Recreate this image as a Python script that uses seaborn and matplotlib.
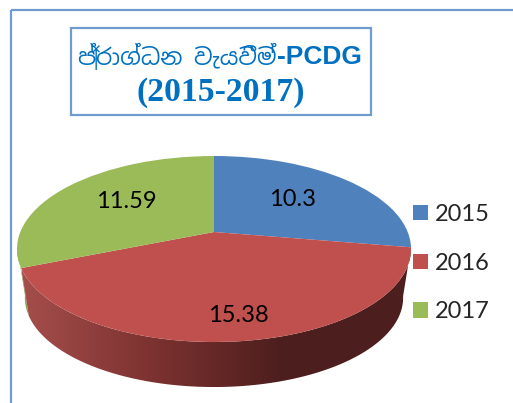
import numpy as np
import matplotlib
matplotlib.use('Agg')
import matplotlib.pyplot as plt
import seaborn as sns
from matplotlib.patches import Rectangle, PathPatch
from matplotlib.path import Path
from matplotlib.transforms import Transform

# Data
years = ['2015', '2016', '2017']
values = [10.3, 15.38, 11.59]
colors = ['#4f81bd', '#c0504d', '#9bbb59']
title_si = 'ප්\u200dරාග්ධන වැයවීම්'
title_en = '-PCDG'
title_range = '(2015-2017)'
label_pos = [(293, 199), (238, 315), (126, 202)]
wall_colors = ['#a54e4c', '#7c3230', '#4d1e1e', '#4d1e1e']

sns.set_theme(style='white')
plt.rcParams['font.family'] = ['Lato', 'DejaVu Sans']


def project(x, y, cx=214.0, cy=232.0, scale=1.0):
    # tilted disc: far edge is squeezed, near edge stretched
    w = 1 + 0.183 * y
    return cx + scale * 193.7 * x / w, cy - scale * 89.9 * y / w


class Tilt(Transform):
    input_dims = 2
    output_dims = 2

    def transform_non_affine(self, xy):
        xy = np.asarray(xy)
        return np.column_stack(project(xy[:, 0], xy[:, 1]))


def rim(a, b, **kw):
    t = np.radians(np.linspace(a, b, 80))
    return np.column_stack(project(np.cos(t), np.sin(t), **kw))


def wall(ax, a, b, c=None):
    top = rim(a, b)
    low = rim(b, a, cy=281.4, scale=0.96)
    verts = np.vstack([top, low, top[:1]])
    return PathPatch(Path(verts), facecolor=c or 'none', edgecolor='none',
                     transform=ax.transData, zorder=1)


fig = plt.figure(figsize=(5.13, 4.03), dpi=100)
ax = fig.add_axes([0, 0, 1, 1])

wedges, _ = ax.pie(values, colors=colors, startangle=90, counterclock=False)
ax.set_aspect('auto')
ax.set_xlim(0, 513)
ax.set_ylim(403, 0)
ax.axis('off')

tilt = Tilt() + ax.transData
for w in wedges:
    w.set_transform(tilt)
    w.set_zorder(3)
    w.set_linewidth(0)

# outer frame and title box
ax.add_patch(Rectangle((11, 10), 530, 430, fc='none', ec='#6f9bd1', lw=1.6, zorder=0))
ax.add_patch(Rectangle((71, 28), 300, 87, fc='white', ec='#6f9bd1', lw=1.6, zorder=4))

# pie side: green sliver then the shaded red wall
red, green = wedges[1], wedges[2]
ax.add_patch(wall(ax, green.theta2 - 13, green.theta2, '#8aa64f'))
side = wall(ax, red.theta1, red.theta2)
ax.add_patch(side)
cmap = sns.blend_palette(wall_colors, as_cmap=True)
img = ax.imshow(np.linspace(0, 1, 256)[None, :], extent=(22, 412, 400, 240),
                aspect='auto', cmap=cmap, zorder=1)
img.set_clip_path(side)
ax.set_xlim(0, 513)
ax.set_ylim(403, 0)

for v, (x, y) in zip(values, label_pos):
    ax.text(x, y, str(v), ha='center', va='center', fontsize=17, color='black', zorder=5)

ax.legend(wedges, years, loc='upper left', bbox_to_anchor=(413, 204), bbox_transform=ax.transData,
          frameon=False, fontsize=17, handlelength=0.63, handleheight=0.63, handletextpad=0.3,
          labelspacing=1.17, borderpad=0, borderaxespad=0)

ax.text(277, 57, title_si, ha='right', va='center', fontsize=16.5, color='#0070c0',
        family='Noto Sans Sinhala', weight='medium', zorder=5)
ax.text(277, 57, title_en, ha='left', va='center', fontsize=19, color='#0070c0',
        family='Liberation Sans', weight='bold', zorder=5)
ax.text(221, 93, title_range, ha='center', va='center', fontsize=24.2, color='#0070c0',
        family='Liberation Serif', weight='bold', zorder=5)

fig.savefig('out.png', dpi=100)
